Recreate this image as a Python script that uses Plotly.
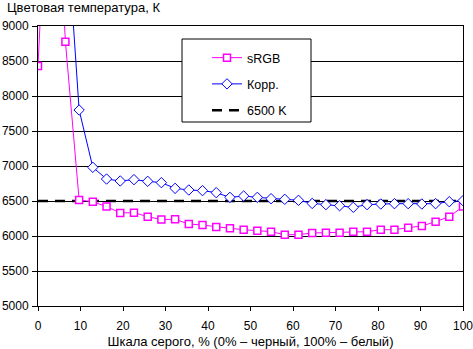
import plotly.graph_objects as go

# Grey scale level, % (0% = black, 100% = white)
gray_pct = [0, 3.23, 6.45, 9.68, 12.9, 16.13, 19.35, 22.58, 25.81, 29.03, 32.26,
            35.48, 38.71, 41.94, 45.16, 48.39, 51.61, 54.84, 58.06, 61.29, 64.52,
            67.74, 70.97, 74.19, 77.42, 80.65, 83.87, 87.1, 90.32, 93.55, 96.77, 100]

srgb_k = [8430, 12500, 8776, 6515, 6490, 6420, 6330, 6333, 6276, 6236, 6238,
          6171, 6157, 6129, 6110, 6090, 6076, 6062, 6019, 6019, 6043,
          6048, 6048, 6062, 6062, 6090, 6090, 6119, 6143, 6205, 6276, 6420]

korr_k = [12000, 12000, 10700, 7800, 6981, 6814, 6786, 6805, 6781, 6762, 6681,
          6657, 6648, 6619, 6552, 6571, 6552, 6533, 6524, 6510, 6465,
          6448, 6433, 6410, 6448, 6457, 6462, 6462, 6457, 6462, 6490, 6505]

ref_x = [0, 100]
ref_k = [6500, 6500]

y_ticks = [5000, 5500, 6000, 6500, 7000, 7500, 8000, 8500, 9000]
x_ticks = [0, 10, 20, 30, 40, 50, 60, 70, 80, 90, 100]

FONT = "Liberation Sans, Arial, sans-serif"
W, H = 473, 349
L, R, T, B = 38, 10, 26, 43

fig = go.Figure()
fig.add_trace(go.Scatter(
    x=ref_x, y=ref_k, name="6500 K", mode="lines", legendgroup="c", legendrank=3,
    line=dict(color="black", width=2.5, dash="10px,7px"),
))
fig.add_trace(go.Scatter(
    x=gray_pct, y=srgb_k, name="sRGB", mode="lines+markers", legendgroup="a", legendrank=1,
    line=dict(color="#FF00FF", width=1),
    marker=dict(symbol="square", size=7, color="white",
                line=dict(color="#FF00FF", width=1.5)),
))
fig.add_trace(go.Scatter(
    x=gray_pct, y=korr_k, name="Корр.", mode="lines+markers", legendgroup="b", legendrank=2,
    line=dict(color="#0000FF", width=1),
    marker=dict(symbol="diamond", size=8, color="white",
                line=dict(color="#0000FF", width=1)),
))

pw = W - L - R
ph = H - T - B

def px_x(p):
    return (p - L) / pw

def px_y(p):
    return (H - B - p) / ph

fig.add_shape(type="rect", xref="paper", yref="paper",
              x0=px_x(182), x1=px_x(311), y0=px_y(122), y1=px_y(39),
              line=dict(color="black", width=1), fillcolor="white", layer="above")

fig.update_layout(
    width=W, height=H,
    margin=dict(l=L, r=R, t=T, b=B, pad=0, autoexpand=False),
    paper_bgcolor="white", plot_bgcolor="white",
    font=dict(family=FONT, size=12, color="black"),
    title=dict(text="Цветовая температура, К", x=7 / W, xanchor="left",
               y=1 - 7.5 / H, yanchor="middle", font=dict(size=13, family=FONT)),
    showlegend=True,
    legend=dict(x=px_x(207), y=px_y(43), xanchor="left", yanchor="top",
                bgcolor="rgba(0,0,0,0)", borderwidth=0, tracegroupgap=7,
                font=dict(size=12.5, family=FONT)),
    xaxis=dict(range=[0, 100], tickvals=x_ticks, showgrid=False, zeroline=False,
               automargin=False, ticklabeloverflow="allow", ticklabelstandoff=5,
               showline=True, linecolor="black", linewidth=1, mirror=True,
               ticks="outside", ticklen=4, tickcolor="black",
               title=dict(text="Шкала серого, % (0% – черный, 100% – белый)",
                          standoff=8, font=dict(size=13))),
    yaxis=dict(range=[5000, 9000], tickvals=y_ticks, tickformat="d",
               automargin=False, ticklabeloverflow="allow", ticklabelstandoff=1,
               showgrid=True, gridcolor="black", gridwidth=1, zeroline=False,
               showline=True, linecolor="black", linewidth=1, mirror=True,
               ticks="outside", ticklen=5, tickcolor="black"),
)

fig.write_html("out.html")
